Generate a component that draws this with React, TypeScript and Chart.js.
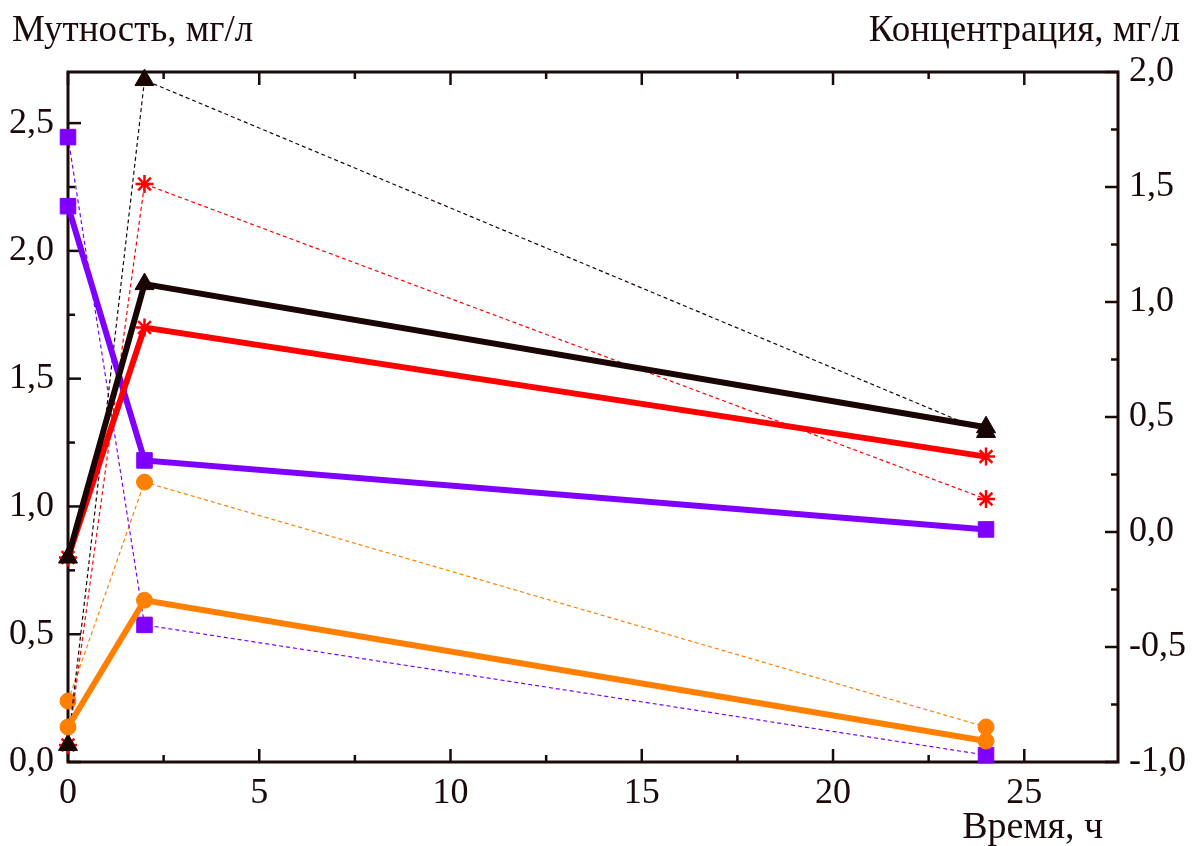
import React, { useEffect, useRef } from "react";
import { Chart, registerables } from "chart.js";

Chart.register(...registerables);

// Time, h
const times = [0, 2, 24];
// Turbidity, mg/l (left axis) – thick lines
const turbBlack = [0.8, 1.87, 1.31];
const turbRed = [0.8, 1.7, 1.195];
const turbViolet = [2.175, 1.18, 0.91];
const turbOrange = [0.137, 0.633, 0.082];
// Concentration, mg/l (right axis) – thin dashed lines
const concBlack = [-0.926, 1.965, 0.435];
const concRed = [-0.926, 1.513, 0.143];
const concViolet = [1.717, -0.404, -0.97];
const concOrange = [-0.735, 0.217, -0.848];

const xTicks = [0, 5, 10, 15, 20, 25];
const leftTicks = [0, 0.5, 1.0, 1.5, 2.0, 2.5];
const rightTicks = [-1.0, -0.5, 0.0, 0.5, 1.0, 1.5, 2.0];

const titleLeft = "Мутность, мг/л";
const titleRight = "Концентрация, мг/л";
const titleX = "Время, ч";

const INK = "#1a0a0a";
const BLACK = "#1a0505";
const RED = "#ff0000";
const VIOLET = "#7f00ff";
const ORANGE = "#ff8000";
const FONT = "'Liberation Serif', 'Times New Roman', serif";

const pts = (ys: number[]) => times.map((t, i) => ({ x: t, y: ys[i] }));
const fmt = (v: number) => v.toFixed(1).replace(".", ",");

const marker = (color: string, style: string, r: number) => ({
  pointStyle: style,
  pointRadius: r,
  pointHoverRadius: r,
  pointBackgroundColor: color,
  pointBorderColor: color,
  pointBorderWidth: style === "star" ? 2.5 : 1,
});

const frameTicks = {
  id: "frameTicks",
  beforeDatasetsDraw(chart: any) {
    const { ctx, chartArea: a, scales } = chart;
    ctx.save();
    ctx.strokeStyle = INK;
    ctx.lineWidth = 3;
    ctx.strokeRect(a.left, a.top, a.right - a.left, a.bottom - a.top);
    ctx.lineWidth = 2.5;
    const x = scales.x;
    for (let v = 0; v <= x.max + 1e-9; v += 2.5) {
      const p = x.getPixelForValue(v);
      const len = Math.abs(v % 5) < 1e-6 ? 13 : 7;
      ctx.beginPath();
      ctx.moveTo(p, a.bottom);
      ctx.lineTo(p, a.bottom - len);
      ctx.moveTo(p, a.top);
      ctx.lineTo(p, a.top + len);
      ctx.stroke();
    }
    const yl = scales.y;
    for (let v = 0; v <= yl.max + 1e-9; v += 0.25) {
      const p = yl.getPixelForValue(v);
      const len = Math.abs((v * 2) % 1) < 1e-6 ? 13 : 7;
      ctx.beginPath();
      ctx.moveTo(a.left, p);
      ctx.lineTo(a.left + len, p);
      ctx.stroke();
    }
    const yr = scales.y2;
    for (let v = -1; v <= yr.max + 1e-9; v += 0.25) {
      const p = yr.getPixelForValue(v);
      const len = Math.abs(((v + 1) * 2) % 1) < 1e-6 ? 13 : 7;
      ctx.beginPath();
      ctx.moveTo(a.right, p);
      ctx.lineTo(a.right - len, p);
      ctx.stroke();
    }
    ctx.restore();
  },
  afterDraw(chart: any) {
    const { ctx } = chart;
    ctx.save();
    ctx.fillStyle = INK;
    ctx.font = `37px ${FONT}`;
    ctx.textBaseline = "alphabetic";
    ctx.textAlign = "left";
    ctx.fillText(titleLeft, 12, 41);
    ctx.textAlign = "right";
    ctx.fillText(titleRight, 1180, 41);
    ctx.font = `38px ${FONT}`;
    ctx.fillText(titleX, 1103, 838);
    ctx.restore();
  },
};

export default function App() {
  const ref = useRef<HTMLCanvasElement>(null);
  useEffect(() => {
    if (!ref.current) return;
    const thick = (data: number[], color: string, style: string, r: number) => ({
      data: pts(data),
      yAxisID: "y",
      borderColor: color,
      backgroundColor: color,
      borderWidth: 6,
      clip: false as any,
      ...marker(color, style, r),
    });
    const thin = (data: number[], color: string, style: string, r: number) => ({
      data: pts(data),
      yAxisID: "y2",
      borderColor: color,
      backgroundColor: color,
      borderWidth: 1.2,
      borderDash: [4, 3],
      clip: false as any,
      ...marker(color, style, r),
    });
    const chart = new Chart(ref.current, {
      type: "line",
      data: {
        datasets: [
          thick(turbBlack, BLACK, "triangle", 11),
          thick(turbRed, RED, "star", 9),
          thick(turbViolet, VIOLET, "rect", 11),
          thick(turbOrange, ORANGE, "circle", 8),
          thin(concBlack, BLACK, "triangle", 11),
          thin(concRed, RED, "star", 9),
          thin(concViolet, VIOLET, "rect", 11),
          thin(concOrange, ORANGE, "circle", 8),
        ] as any,
      },
      options: {
        animation: false,
        responsive: false,
        layout: { padding: { top: 72, left: 0, right: 0, bottom: 0 } },
        plugins: { legend: { display: false }, tooltip: { enabled: false } },
        elements: { line: { tension: 0 } },
        scales: {
          x: {
            type: "linear",
            min: 0,
            max: 27.45,
            afterBuildTicks: (s: any) => {
              s.ticks = xTicks.map((v) => ({ value: v }));
            },
            afterFit: (s: any) => {
              s.height = 84;
            },
            grid: { display: false, drawTicks: false },
            border: { display: false },
            ticks: {
              padding: 10,
              maxRotation: 0,
              autoSkip: false,
              color: INK,
              font: { family: FONT, size: 36 },
              callback: (v: any) => String(v),
            },
          },
          y: {
            type: "linear",
            position: "left",
            min: 0,
            max: 2.7,
            afterBuildTicks: (s: any) => {
              s.ticks = leftTicks.map((v) => ({ value: v }));
            },
            afterFit: (s: any) => {
              s.width = 68;
            },
            grid: { display: false, drawTicks: false },
            border: { display: false },
            ticks: {
              padding: 14,
              autoSkip: false,
              color: INK,
              font: { family: FONT, size: 36 },
              callback: (v: any) => fmt(Number(v)),
            },
          },
          y2: {
            type: "linear",
            position: "right",
            min: -1,
            max: 2,
            afterBuildTicks: (s: any) => {
              s.ticks = rightTicks.map((v) => ({ value: v }));
            },
            afterFit: (s: any) => {
              s.width = 76;
            },
            grid: { display: false, drawTicks: false },
            border: { display: false },
            ticks: {
              padding: 11,
              autoSkip: false,
              color: INK,
              font: { family: FONT, size: 36 },
              callback: (v: any) => fmt(Number(v)),
            },
          },
        },
      },
      plugins: [frameTicks],
    });
    return () => chart.destroy();
  }, []);
  return (
    <div style={{ position: "absolute", left: 0, top: 0, width: 1194, height: 846, background: "#fff" }}>
      <canvas ref={ref} width={1194} height={846} style={{ width: 1194, height: 846 }} />
    </div>
  );
}
